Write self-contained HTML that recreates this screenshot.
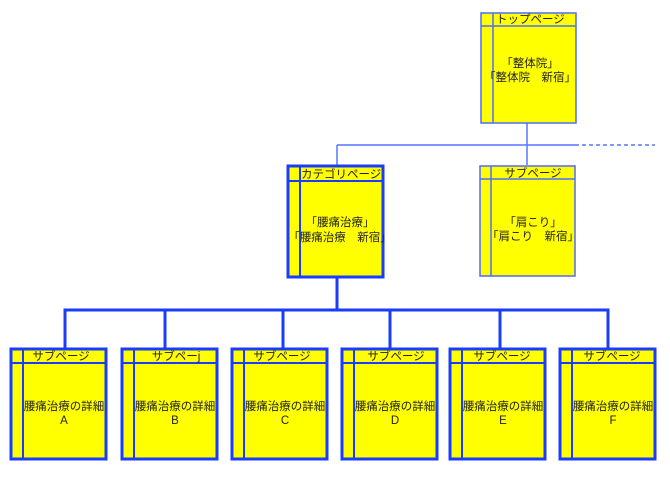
<!DOCTYPE html>
<html><head><meta charset="utf-8"><style>
body{margin:0;background:#fff;width:670px;height:480px;overflow:hidden}
text{font-family:"Liberation Sans","Noto Sans CJK JP",sans-serif;fill:#222}
</style></head><body>
<svg width="670" height="480" viewBox="0 0 670 480" xmlns="http://www.w3.org/2000/svg">
<g stroke="#5577ff" stroke-width="1.5" fill="none">
<line x1="527" y1="123" x2="527" y2="165"/>
<line x1="337" y1="145" x2="575" y2="145"/>
<line x1="337" y1="145" x2="337" y2="165"/>
<line x1="575" y1="145" x2="655" y2="145" stroke-dasharray="4,3"/>
</g>
<g stroke="#1a3cff" stroke-width="3" fill="none">
<line x1="337" y1="277" x2="337" y2="310"/>
<polyline points="65,348 65,310 608,310 608,348"/>
<line x1="165" y1="310" x2="165" y2="348"/>
<line x1="283" y1="310" x2="283" y2="348"/>
<line x1="390" y1="310" x2="390" y2="348"/>
<line x1="500" y1="310" x2="500" y2="348"/>
</g>
<g stroke="#4f6bff" stroke-width="1.5" fill="#ffff00">
<rect x="481" y="13" width="95" height="110"/>
<line x1="481" y1="26" x2="576" y2="26"/>
<line x1="493" y1="13" x2="493" y2="123"/>
<rect x="480" y="166" width="95" height="110"/>
<line x1="480" y1="179" x2="575" y2="179"/>
<line x1="491" y1="166" x2="491" y2="276"/>
</g>
<g font-size="11.5">
<text x="496" y="23">トップページ</text>
<text x="530" y="67" text-anchor="middle">「整体院」</text>
<text x="530" y="81" text-anchor="middle">「整体院　新宿」</text>
<text x="533" y="177" text-anchor="middle">サブページ</text>
<text x="533" y="226" text-anchor="middle">「肩こり」</text>
<text x="533" y="240" text-anchor="middle">「肩こり　新宿」</text>
</g>
<g stroke="#1a3cff" stroke-width="3" fill="#ffff00">
<rect x="288" y="166" width="95" height="111"/>
<line x1="288" y1="181" x2="383" y2="181" stroke-width="2"/>
<line x1="300" y1="166" x2="300" y2="277" stroke-width="2"/>
</g>
<g font-size="11.5">
<text x="301" y="178">カテゴリページ</text>
<text x="340" y="226" text-anchor="middle">「腰痛治療」</text>
<text x="340" y="241" text-anchor="middle">「腰痛治療　新宿」</text>
</g>
<g stroke="#1a3cff" stroke-width="3" fill="#ffff00">
<rect x="11" y="349" width="95" height="110"/><line x1="11" y1="363" x2="106" y2="363" stroke-width="2"/><line x1="23" y1="349" x2="23" y2="459" stroke-width="2"/>
<rect x="122" y="349" width="95" height="110"/><line x1="122" y1="363" x2="217" y2="363" stroke-width="2"/><line x1="134" y1="349" x2="134" y2="459" stroke-width="2"/>
<rect x="232" y="349" width="95" height="110"/><line x1="232" y1="363" x2="327" y2="363" stroke-width="2"/><line x1="244" y1="349" x2="244" y2="459" stroke-width="2"/>
<rect x="342" y="349" width="95" height="110"/><line x1="342" y1="363" x2="437" y2="363" stroke-width="2"/><line x1="354" y1="349" x2="354" y2="459" stroke-width="2"/>
<rect x="450" y="349" width="95" height="110"/><line x1="450" y1="363" x2="545" y2="363" stroke-width="2"/><line x1="462" y1="349" x2="462" y2="459" stroke-width="2"/>
<rect x="560" y="349" width="95" height="110"/><line x1="560" y1="363" x2="655" y2="363" stroke-width="2"/><line x1="572" y1="349" x2="572" y2="459" stroke-width="2"/>
</g>
<g font-size="11.5" text-anchor="middle">
<text x="61" y="360">サブページ</text><text x="64" y="410">腰痛治療の詳細</text><text x="64" y="424">A</text>
<text x="176" y="360">サブペーj</text><text x="175" y="410">腰痛治療の詳細</text><text x="175" y="424">B</text>
<text x="282" y="360">サブページ</text><text x="285" y="410">腰痛治療の詳細</text><text x="285" y="424">C</text>
<text x="396" y="360">サブページ</text><text x="395" y="410">腰痛治療の詳細</text><text x="395" y="424">D</text>
<text x="502" y="360">サブページ</text><text x="503" y="410">腰痛治療の詳細</text><text x="503" y="424">E</text>
<text x="612" y="360">サブページ</text><text x="613" y="410">腰痛治療の詳細</text><text x="613" y="424">F</text>
</g>
</svg>
</body></html>
